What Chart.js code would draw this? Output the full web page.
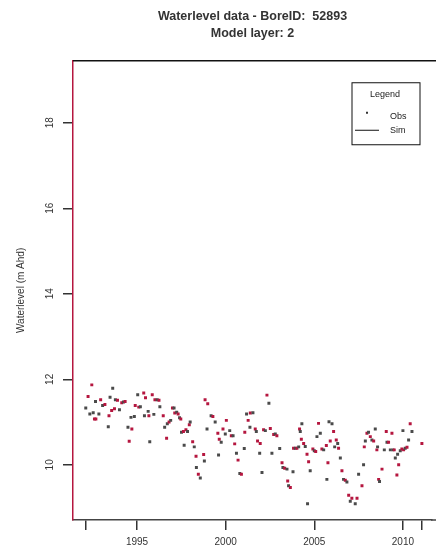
<!DOCTYPE html>
<html lang="en">
<head>
  <meta charset="UTF-8">
  <title>Waterlevel data - BoreID: 52893</title>
  <script src="https://cdn.jsdelivr.net/npm/chart.js"></script>
  <style>
    body { margin: 0; background: #fff; }
    .wrap { width: 436px; height: 557px; position: relative; }
  </style>
</head>
<body>
  <div class="wrap"><canvas id="boreChart"></canvas></div>

  <script>
    const obsYears = [
      1992.11, 1992.24, 1992.34, 1992.45, 1992.53, 1992.60, 1992.66, 1992.68, 1992.85, 1992.95,
      1993.06, 1993.19, 1993.38, 1993.42, 1993.48, 1993.57, 1993.63, 1993.73, 1993.78, 1993.90,
      1994.01, 1994.14, 1994.24, 1994.33, 1994.49, 1994.56, 1994.66, 1994.71, 1994.85, 1994.90,
      1995.04, 1995.10, 1995.19, 1995.38, 1995.42, 1995.48, 1995.63, 1995.67, 1995.72, 1995.86,
      1995.95, 1996.01, 1996.14, 1996.24, 1996.29, 1996.48, 1996.56, 1996.67, 1996.71, 1996.81,
      1996.90, 1997.00, 1997.09, 1997.13, 1997.24, 1997.32, 1997.40, 1997.47, 1997.51, 1997.62,
      1997.66, 1997.76, 1997.85, 1997.95, 1998.00, 1998.14, 1998.23, 1998.33, 1998.35, 1998.46,
      1998.57, 1998.76, 1998.80, 1998.84, 1998.95, 1998.99, 1999.18, 1999.28, 1999.41, 1999.56,
      1999.60, 1999.64, 1999.75, 1999.85, 1999.98, 2000.04, 2000.23, 2000.32, 2000.42, 2000.51,
      2000.61, 2000.70, 2000.80, 2000.89, 2001.05, 2001.08, 2001.18, 2001.27, 2001.37, 2001.39,
      2001.54, 2001.67, 2001.73, 2001.80, 2001.92, 2001.95, 2002.05, 2002.14, 2002.24, 2002.33,
      2002.44, 2002.52, 2002.61, 2002.71, 2002.80, 2002.89, 2003.05, 2003.18, 2003.23, 2003.33,
      2003.46, 2003.50, 2003.55, 2003.65, 2003.80, 2003.83, 2003.93, 2004.02, 2004.12, 2004.17,
      2004.21, 2004.27, 2004.30, 2004.40, 2004.49, 2004.59, 2004.62, 2004.68, 2004.77, 2004.92,
      2005.00, 2005.08, 2005.15, 2005.24, 2005.34, 2005.43, 2005.53, 2005.68, 2005.71, 2005.77,
      2005.83, 2005.90, 2006.00, 2006.09, 2006.15, 2006.24, 2006.32, 2006.37, 2006.47, 2006.56,
      2006.65, 2006.75, 2006.84, 2006.94, 2007.03, 2007.12, 2007.31, 2007.41, 2007.50, 2007.69,
      2007.78, 2007.82, 2007.88, 2007.97, 2008.06, 2008.16, 2008.25, 2008.35, 2008.44, 2008.53,
      2008.57, 2008.63, 2008.68, 2008.82, 2008.95, 2009.06, 2009.10, 2009.19, 2009.29, 2009.38,
      2009.44, 2009.51, 2009.57, 2009.66, 2009.70, 2009.76, 2009.85, 2009.94, 2010.00, 2010.04,
      2010.13, 2010.23, 2010.32, 2010.41, 2010.51, 2011.07
    ];
    const obsLevels = [
      11.33, 11.60, 11.19, 11.87, 11.22, 11.07, 11.48, 11.07, 11.19, 11.52,
      11.39, 11.41, 10.89, 11.15, 11.58, 11.27, 11.79, 11.31, 11.52, 11.51,
      11.29, 11.45, 11.47, 11.48, 10.88, 10.55, 11.11, 10.84, 11.13, 11.39,
      11.64, 11.35, 11.36, 11.68, 11.15, 11.57, 11.25, 11.15, 10.54, 11.64,
      11.18, 11.52, 11.52, 11.51, 11.36, 11.15, 10.88, 10.62, 10.96, 11.00,
      11.04, 11.33, 11.33, 11.21, 11.23, 11.19, 11.10, 11.07, 10.76, 10.78,
      10.46, 10.82, 10.78, 10.94, 11.00, 10.54, 10.42, 10.20, 9.94, 9.78,
      9.69, 10.24, 10.09, 11.52, 10.84, 11.43, 11.15, 11.13, 11.00, 10.74,
      10.23, 10.60, 10.53, 10.84, 10.72, 11.04, 10.80, 10.68, 10.68, 10.49,
      10.27, 10.11, 9.80, 9.78, 10.38, 10.76, 11.19, 11.04, 10.88, 11.21,
      11.22, 10.84, 10.78, 10.56, 10.27, 10.50, 9.82, 10.82, 10.80, 11.63,
      11.44, 10.85, 10.27, 10.71, 10.72, 10.68, 10.38, 10.05, 9.94, 9.92,
      9.90, 9.62, 9.51, 9.47, 9.84, 10.39, 10.39, 10.39, 10.42, 10.84,
      10.78, 10.60, 10.96, 10.50, 10.43, 10.25, 9.09, 10.07, 9.86, 10.37,
      10.33, 10.31, 10.66, 10.97, 10.74, 10.37, 10.35, 10.45, 9.66, 10.05,
      11.01, 10.56, 10.96, 10.78, 10.42, 10.58, 10.50, 10.39, 10.16, 9.86,
      9.66, 9.64, 9.60, 9.29, 9.15, 9.22, 9.09, 9.22, 9.78, 9.51,
      10.00, 10.42, 10.56, 10.74, 10.76, 10.66, 10.58, 10.56, 10.84, 10.35,
      10.42, 9.66, 9.61, 9.90, 10.35, 10.78, 10.53, 10.53, 10.35, 10.74,
      10.35, 10.35, 10.16, 9.76, 10.25, 10.00, 10.33, 10.37, 10.80, 10.35,
      10.39, 10.41, 10.58, 10.96, 10.78, 10.50
    ];
    // simulated series: nothing is drawn for it in the reference
    const simYears = [];
    const simLevels = [];

    const xTicks = [1992.11, 1995, 2000, 2005, 2010, 2011.07];
    const xTickLabels = ['', '1995', '2000', '2005', '2010', ''];
    const yTicks = [10, 12, 14, 16, 18];

    const crimson = '#b5163f';
    const grey = '#4a4a4a';

    const obsPoints = obsYears.map((x, i) => ({ x: x, y: obsLevels[i] }));
    const simPoints = simYears.map((x, i) => ({ x: x, y: simLevels[i] }));

    // rotated y labels, frame lines running off the right edge, and the R-style legend box
    const framePlugin = {
      id: 'frame',
      afterDraw(chart) {
        const { ctx, chartArea: a, scales } = chart;
        ctx.save();

        ctx.strokeStyle = '#111';
        ctx.lineWidth = 1.5;
        ctx.beginPath();
        ctx.moveTo(a.left, a.top);
        ctx.lineTo(chart.width, a.top);
        ctx.stroke();
        ctx.strokeStyle = '#444';
        ctx.beginPath();
        ctx.moveTo(a.right - 1, a.bottom);
        ctx.lineTo(chart.width, a.bottom);
        ctx.stroke();

        ctx.fillStyle = '#333';
        ctx.font = '10px "Liberation Sans", Arial, sans-serif';
        ctx.textAlign = 'center';
        ctx.textBaseline = 'middle';
        scales.y.ticks.forEach(t => {
          const py = scales.y.getPixelForValue(t.value);
          ctx.save();
          ctx.translate(a.left - 23, py);
          ctx.rotate(-Math.PI / 2);
          ctx.fillText(String(t.value), 0, 0);
          ctx.restore();
        });

        // legend box
        const bx = chart.width - 84, by = a.top + 22, bw = 68, bh = 62;
        ctx.strokeStyle = '#111';
        ctx.lineWidth = 1;
        ctx.strokeRect(bx, by, bw, bh);
        ctx.font = '9px "Liberation Sans", Arial, sans-serif';
        ctx.fillStyle = '#222';
        ctx.fillText('Legend', bx + 33, by + 12);
        ctx.textAlign = 'left';
        const ds = chart.data.datasets;
        ctx.fillText(ds[0].label, bx + 38, by + 34);
        ctx.fillText(ds[1].label, bx + 38, by + 48);
        ctx.fillStyle = '#333';
        ctx.fillRect(bx + 14, by + 29, 2, 2);
        ctx.strokeStyle = '#111';
        ctx.beginPath();
        ctx.moveTo(bx + 3, by + 47.5);
        ctx.lineTo(bx + 27, by + 47.5);
        ctx.stroke();

        ctx.restore();
      }
    };

    document.addEventListener('DOMContentLoaded', () => {
      const ctx = document.getElementById('boreChart').getContext('2d');
      new Chart(ctx, {
        type: 'scatter',
        data: {
          datasets: [
            {
              label: 'Obs',
              data: obsPoints,
              pointStyle: 'rect',
              pointRadius: 2.1,
              pointBorderWidth: 0,
              pointBackgroundColor: c => (c.dataIndex % 2 ? crimson : grey),
            },
            {
              label: 'Sim',
              type: 'line',
              data: simPoints,
              borderColor: '#111',
              borderWidth: 1,
              pointRadius: 0,
            },
          ],
        },
        options: {
          responsive: true,
          maintainAspectRatio: false,
          animation: false,
          layout: { padding: { left: 0, right: 1, top: 0, bottom: 0 } },
          plugins: {
            legend: { display: false },
            tooltip: { enabled: false },
            title: {
              display: true,
              fullSize: false,
              text: ['Waterlevel data - BoreID:  52893', 'Model layer: 2'],
              color: '#333',
              font: { family: '"Liberation Sans", Arial, sans-serif', size: 12.5, weight: 'bold', lineHeight: 1.35 },
              padding: { top: 8, bottom: 19 },
            },
          },
          scales: {
            x: {
              type: 'linear',
              min: 1991.39,
              max: 2011.64,
              afterBuildTicks: s => { s.ticks = xTicks.map(v => ({ value: v })); },
              afterFit: s => { s.height = 37; },
              grid: { drawOnChartArea: false, drawTicks: true, tickLength: 10, tickColor: '#333', lineWidth: 1.5 },
              border: { display: true, color: '#444', width: 1.5 },
              ticks: {
                autoSkip: false,
                maxRotation: 0,
                padding: 6,
                color: '#333',
                font: { family: '"Liberation Sans", Arial, sans-serif', size: 10 },
                callback: (v, i) => xTickLabels[i],
              },
            },
            y: {
              min: 8.71,
              max: 19.45,
              afterBuildTicks: s => { s.ticks = yTicks.map(v => ({ value: v })); },
              afterFit: s => { s.width = 73; },
              grid: { drawOnChartArea: false, drawTicks: true, tickLength: 10, tickColor: '#333', lineWidth: 1.5 },
              border: { display: true, color: crimson, width: 1.5 },
              ticks: { display: false },
              title: {
                display: true,
                text: 'Waterlevel (m Ahd)',
                color: '#333',
                font: { family: '"Liberation Sans", Arial, sans-serif', size: 10 },
                padding: { top: 15, bottom: 0 },
              },
            },
          },
        },
        plugins: [framePlugin],
      });
    });
  </script>
</body>
</html>
